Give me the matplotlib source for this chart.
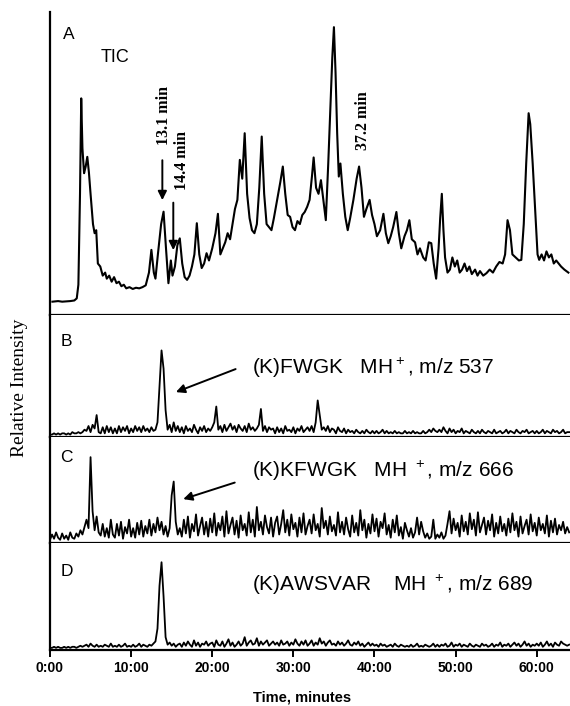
import numpy as np
import matplotlib
matplotlib.use("Agg")
import matplotlib.pyplot as plt

plt.rcParams['font.family'] = ['Liberation Sans', 'DejaVu Sans']

# panel A: total ion current (time in minutes, intensity in % of panel height)
tic_time = [0.3, 1.0, 1.5, 2.0, 2.5, 3.0, 3.3, 3.5, 3.7, 3.85, 4.0, 4.2, 4.4, 4.6, 4.8,
            5.0, 5.3, 5.5, 5.7, 5.9, 6.2, 6.5, 6.8, 7.0, 7.3, 7.6, 7.9, 8.2, 8.5, 8.8,
            9.1, 9.4, 9.8, 10.2, 10.6, 11.0, 11.4, 11.8, 12.2, 12.5, 12.8, 13.0, 13.3, 13.7, 14.0,
            14.3, 14.6, 14.9, 15.1, 15.4, 15.7, 16.0, 16.3, 16.6, 16.9, 17.2, 17.5, 17.8, 18.1, 18.4,
            18.7, 19.0, 19.3, 19.6, 20.0, 20.4, 20.7, 21.0, 21.3, 21.6, 21.9, 22.2, 22.5, 22.8, 23.1,
            23.4, 23.7, 24.0, 24.3, 24.6, 24.9, 25.2, 25.5, 25.8, 26.1, 26.4, 26.7, 27.0, 27.3, 27.6,
            28.0, 28.4, 28.7, 29.0, 29.3, 29.6, 29.9, 30.2, 30.5, 30.8, 31.1, 31.4, 31.7, 32.0, 32.3,
            32.5, 32.8, 33.1, 33.4, 33.7, 34.0, 34.3, 34.6, 34.8, 35.0, 35.2, 35.4, 35.6, 35.8, 36.1,
            36.4, 36.7, 37.0, 37.4, 37.8, 38.1, 38.4, 38.7, 39.0, 39.4, 39.7, 40.0, 40.3, 40.7, 41.1,
            41.4, 41.7, 42.0, 42.3, 42.7, 43.0, 43.3, 43.7, 44.0, 44.3, 44.6, 45.0, 45.3, 45.6, 46.0,
            46.3, 46.7, 47.0, 47.3, 47.6, 47.9, 48.1, 48.3, 48.5, 48.7, 49.0, 49.3, 49.6, 49.9, 50.2,
            50.5, 50.8, 51.1, 51.4, 51.7, 52.0, 52.4, 52.7, 53.0, 53.4, 53.8, 54.2, 54.6, 55.0, 55.4,
            55.8, 56.1, 56.4, 56.7, 57.0, 57.4, 57.8, 58.1, 58.4, 58.7, 59.0, 59.2, 59.5, 59.8, 60.1,
            60.3, 60.6, 60.9, 61.2, 61.5, 61.8, 62.1, 62.4, 62.7, 63.0, 63.4, 63.9]
tic_intensity = [4.4, 4.6, 4.4, 4.5, 4.6, 4.8, 5.5, 10, 40, 71.5, 55, 46.8, 49, 52.2, 47,
                 40, 30, 27, 28, 17, 16, 13, 14, 12, 13, 11, 12.5, 10.5, 11, 9.5,
                 10, 8.8, 9.2, 8.6, 9, 8.8, 9.2, 9.8, 14, 21.5, 14, 12, 20, 30, 34.1,
                 22, 10.5, 18, 13, 16, 23, 25.3, 17, 12.5, 11.6, 13, 16, 20, 30.3, 20,
                 15.5, 17, 20.4, 18, 22, 27, 33.4, 20, 22, 24, 27, 25, 30, 35, 38,
                 51.2, 45, 60, 40, 32, 28, 27, 30, 42, 58.9, 40, 30, 29, 28, 32,
                 38, 44, 49, 40, 33, 32.4, 29, 28, 31, 30, 33, 34, 35.7, 38, 46,
                 52, 42, 40, 44.5, 38, 31.3, 50, 71, 85, 95, 80, 60, 45.7, 50, 40,
                 32.4, 28, 32, 38, 45, 49, 42, 32.4, 35, 38, 33, 30, 26, 28, 33.4,
                 27, 23.7, 26, 29, 34, 27, 22, 26, 28, 31.3, 25, 24, 20, 22, 19,
                 18, 24, 23.7, 17, 12, 22, 32, 40, 28, 19, 14, 15, 19, 16, 18,
                 14, 15, 17, 14.5, 16, 13.5, 15, 13, 14.5, 13, 13.8, 15, 14, 16, 17.5,
                 17, 20, 31.3, 28, 20, 19, 18, 18.2, 30, 50, 66.6, 63, 50, 35, 20,
                 18.2, 20, 18, 21, 19, 20, 17, 18, 17, 16, 15, 14]

# panels B-D: extracted ion traces, one value every 0.25 min from 0:00
# (each row covers 4 minutes, intensity in % of panel height)
step = 0.25
fwgk_537 = [2, 2, 3, 2, 3, 2, 3, 3, 2, 3, 2, 4, 3, 3, 4, 3,
            4, 6, 5, 9, 4, 10, 7, 18, 4, 3, 8, 3, 9, 4, 8, 3,
            7, 3, 9, 4, 8, 5, 9, 3, 7, 4, 9, 5, 8, 4, 9, 5,
            7, 4, 8, 5, 6, 12, 42, 71, 56, 22, 6, 10, 4, 12, 5, 9,
            4, 8, 3, 9, 5, 7, 4, 10, 6, 3, 8, 5, 9, 4, 7, 5,
            8, 12, 25, 6, 9, 4, 10, 5, 8, 11, 6, 9, 4, 10, 7, 5,
            9, 4, 11, 6, 8, 5, 7, 10, 23, 5, 9, 4, 8, 6, 7, 3,
            8, 4, 7, 3, 9, 5, 6, 4, 8, 3, 7, 5, 9, 4, 6, 8,
            5, 9, 4, 12, 30, 18, 6, 8, 5, 9, 4, 7, 6, 3, 8, 5,
            4, 7, 3, 6, 4, 5, 3, 6, 4, 3, 5, 3, 6, 4, 3, 5,
            3, 5, 3, 4, 6, 3, 5, 3, 4, 3, 5, 3, 4, 3, 3, 5,
            3, 4, 3, 5, 3, 4, 3, 3, 5, 3, 4, 6, 4, 7, 5, 4,
            6, 4, 8, 5, 3, 7, 4, 6, 3, 5, 4, 7, 3, 5, 4, 3,
            6, 4, 3, 5, 3, 6, 4, 3, 5, 4, 3, 6, 3, 4, 5, 3,
            4, 6, 3, 5, 4, 3, 6, 4, 3, 5, 4, 6, 3, 4, 5, 3,
            5, 3, 4, 6, 3, 5, 4, 3, 6, 4, 5, 3, 4, 6, 3, 4, 4]
kfwgk_666 = [3, 8, 4, 10, 5, 3, 9, 4, 7, 3, 10, 5, 4, 9, 6, 12,
             8, 15, 22, 14, 81, 30, 12, 25, 10, 7, 18, 6, 14, 5, 22, 8,
             5, 18, 7, 20, 4, 15, 9, 22, 6, 14, 5, 19, 8, 21, 6, 16,
             9, 22, 7, 18, 10, 24, 12, 20, 8, 16, 6, 14, 45, 58, 20, 8,
             14, 6, 22, 9, 25, 5, 18, 11, 27, 7, 16, 24, 8, 20, 6, 23,
             10, 28, 7, 19, 12, 25, 6, 30, 9, 17, 24, 8, 21, 5, 26, 12,
             18, 7, 29, 10, 22, 6, 34, 12, 20, 8, 26, 15, 9, 24, 6, 19,
             25, 8, 18, 31, 10, 22, 7, 27, 13, 19, 6, 24, 10, 28, 8, 16,
             22, 9, 27, 12, 18, 6, 33, 14, 21, 8, 25, 11, 17, 7, 29, 10,
             20, 8, 24, 13, 6, 26, 10, 19, 7, 31, 12, 22, 5, 18, 9, 27,
             11, 23, 6, 20, 14, 28, 8, 17, 5, 22, 10, 26, 7, 15, 4, 19,
             12, 6, 14, 5, 10, 24, 8, 20, 11, 5, 9, 4, 6, 22, 4, 8,
             5, 10, 4, 7, 18, 30, 9, 23, 12, 19, 6, 26, 11, 20, 8, 28,
             13, 22, 7, 29, 10, 17, 24, 8, 21, 12, 27, 6, 19, 9, 25, 11,
             18, 7, 23, 10, 28, 12, 20, 6, 25, 9, 16, 22, 8, 27, 11, 19,
             7, 24, 12, 18, 9, 26, 6, 21, 10, 23, 8, 17, 12, 20, 9, 15, 10]
awsvar_689 = [2, 2, 3, 2, 3, 2, 2, 3, 2, 3, 2, 3, 3, 2, 3, 4,
              3, 4, 5, 3, 6, 4, 3, 5, 3, 4, 3, 5, 4, 3, 6, 3,
              4, 3, 5, 3, 4, 6, 3, 4, 3, 5, 3, 4, 6, 3, 5, 4,
              3, 5, 4, 6, 8, 20, 60, 82, 50, 12, 5, 7, 4, 6, 3, 5,
              6, 3, 7, 4, 8, 5, 3, 9, 4, 7, 3, 6, 5, 8, 4, 6,
              7, 3, 9, 5, 4, 8, 3, 6, 10, 4, 7, 3, 5, 8, 4, 6,
              12, 4, 7, 9, 5, 6, 11, 4, 8, 5, 7, 9, 4, 6, 8, 5,
              7, 4, 9, 5, 6, 8, 4, 7, 5, 10, 6, 4, 8, 5, 9, 4,
              6, 9, 4, 7, 5, 11, 6, 8, 4, 7, 9, 5, 6, 4, 8, 5,
              7, 4, 6, 9, 5, 4, 7, 5, 8, 4, 6, 3, 5, 7, 4, 6,
              4, 5, 3, 6, 4, 5, 3, 4, 5, 3, 6, 4, 3, 5, 4, 3,
              4, 3, 5, 3, 4, 6, 3, 4, 3, 5, 4, 3, 4, 6, 3, 5,
              3, 5, 4, 6, 3, 4, 7, 3, 5, 4, 6, 3, 5, 4, 3, 6,
              4, 3, 5, 4, 3, 6, 4, 5, 3, 4, 6, 3, 5, 4, 7, 3,
              5, 4, 6, 3, 5, 7, 4, 6, 3, 5, 8, 4, 6, 3, 5, 4,
              6, 4, 7, 3, 5, 8, 4, 6, 3, 7, 5, 4, 8, 6, 5, 4, 5]

tick_minutes = [0, 10, 20, 30, 40, 50, 60]
tick_labels = ['0:00', '10:00', '20:00', '30:00', '40:00', '50:00', '60:00']

serif = ['Liberation Serif', 'DejaVu Serif']


def setup_panel(ax, bottom_panel):
    ax.set_xlim(0, 64.1)
    ax.set_ylim(0, 100)
    ax.spines['top'].set_visible(False)
    ax.spines['right'].set_visible(False)
    ax.spines['left'].set_linewidth(1.6)
    ax.spines['bottom'].set_linewidth(1.6)
    ax.set_yticks([])
    if bottom_panel:
        ax.set_xticks(tick_minutes)
        ax.set_xticklabels(tick_labels, fontsize=10, fontweight='bold')
        ax.tick_params(axis='x', direction='out', length=5, width=1.4, pad=3)
    else:
        ax.set_xticks([])


def ion_trace(ax, values):
    t = np.arange(len(values)) * step
    ax.plot(t, values, color='black', lw=1.3)


fig = plt.figure(figsize=(5.7, 7.06), dpi=100)
left, width = 0.0877, 0.9123
bounds = [(0.5538, 0.983), (0.381, 0.5538), (0.2309, 0.381), (0.0793, 0.2309)]
axes = [fig.add_axes([left, b, width, t - b]) for b, t in bounds]
axA, axB, axC, axD = axes
for i, ax in enumerate(axes):
    setup_panel(ax, i == 3)

# A - TIC
axA.plot(tic_time, tic_intensity, color='black', lw=1.5)
axA.text(1.6, 92.7, 'A', fontsize=12.5, ha='left', va='center')
axA.text(6.2, 85, 'TIC', fontsize=13, ha='left', va='center')
axA.text(14.0, 66, '13.1 min', rotation=90, ha='center', va='center',
         fontsize=11.5, fontweight='bold', family=serif)
axA.text(16.3, 51, '14.4 min', rotation=90, ha='center', va='center',
         fontsize=11.5, fontweight='bold', family=serif)
axA.text(38.6, 64, '37.2 min', rotation=90, ha='center', va='center',
         fontsize=11.5, fontweight='bold', family=serif)
arrow = dict(arrowstyle='-|>', color='black', lw=1.4, mutation_scale=13)
axA.annotate('', xy=(13.85, 37), xytext=(13.85, 52), arrowprops=arrow)
axA.annotate('', xy=(15.2, 20.5), xytext=(15.2, 38), arrowprops=arrow)

# B
ion_trace(axB, fwgk_537)
axB.text(1.3, 78, 'B', fontsize=12.5, ha='left', va='center')
axB.text(24.9, 56.5, '(K)FWGK   MH$\\mathregular{^+}$, m/z 537', fontsize=15,
         ha='left', va='center')
axB.annotate('', xy=(15.2, 36), xytext=(23.2, 56.5), arrowprops=arrow)

# C
ion_trace(axC, kfwgk_666)
axC.text(1.3, 81, 'C', fontsize=12.5, ha='left', va='center')
axC.text(24.9, 68, '(K)KFWGK   MH $\\mathregular{^+}$, m/z 666', fontsize=15,
         ha='left', va='center')
axC.annotate('', xy=(16.1, 40.6), xytext=(23.1, 57.8), arrowprops=arrow)

# D
ion_trace(axD, awsvar_689)
axD.text(1.3, 73, 'D', fontsize=12.5, ha='left', va='center')
axD.text(24.9, 60.7, '(K)AWSVAR    MH $\\mathregular{^+}$, m/z 689', fontsize=15,
         ha='left', va='center')

fig.text(0.53, 0.0127, 'Time, minutes', fontsize=10.5, fontweight='bold',
         ha='center', va='center')
fig.text(0.035, 1 - 388 / 706, 'Relative Intensity', rotation=90, fontsize=14,
         ha='center', va='center', family=serif)

fig.savefig('out.png', dpi=100)
